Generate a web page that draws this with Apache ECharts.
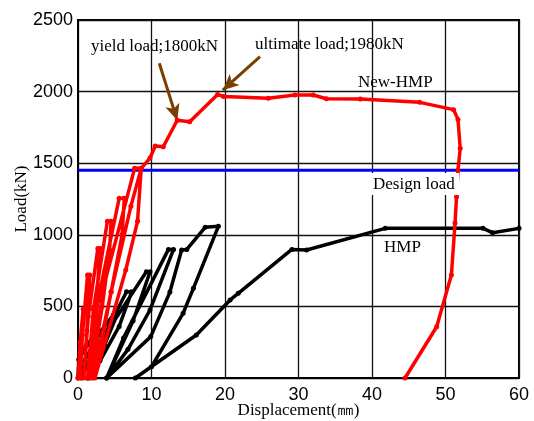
<!DOCTYPE html>
<html>
<head>
<meta charset="utf-8">
<script src="https://cdn.jsdelivr.net/npm/echarts@6/dist/echarts.min.js"></script>
<style>
  html, body { margin: 0; padding: 0; background: #fff; }
  #chart { width: 534px; height: 421px; }
</style>
</head>
<body>
<div id="chart"></div>
<script>
// Load–displacement curves: [displacement (mm), load (kN)]
const newHmpCurve = [
  [0, 0], [0.3, 250], [0.7, 480], [0.5, 220], [0.3, 0],
  [0.6, 300], [1.3, 720], [1.6, 720], [1.2, 330], [0.8, 0],
  [1.4, 430], [2.7, 905], [3.0, 905], [2.5, 520], [1.3, 0],
  [2.1, 480], [4.0, 1094], [4.5, 1094], [4.3, 894], [3.3, 500], [1.7, 0],
  [2.7, 540], [5.6, 1255], [6.3, 1255], [6.0, 1000], [4.5, 600], [2.0, 0],
  [3.4, 620], [7.7, 1464], [8.6, 1464], [8.1, 1094], [6.5, 754], [2.3, 0],
  [4.5, 600], [7.2, 1200], [8.6, 1464], [9.8, 1536], [10.5, 1620], [11.6, 1615],
  [13.5, 1800], [15.2, 1790], [19.0, 1980], [19.8, 1965], [25.9, 1953],
  [29.5, 1976], [32.0, 1976], [33.8, 1950], [38.4, 1948], [46.5, 1925],
  [51.1, 1874], [51.7, 1806], [52.0, 1604], [51.7, 1452], [51.5, 1266],
  [51.3, 1082], [50.8, 719], [48.8, 358], [44.5, 0]
];

const hmpCurve = [
  [0, 0], [0.1, 130], [1.2, 230], [2.3, 300], [2.8, 300], [1.8, 150], [0.5, 0],
  [0.9, 120], [3.0, 320], [4.8, 440], [5.3, 440], [3.6, 230], [1.3, 0],
  [3.2, 260], [6.6, 602], [7.3, 602], [5.6, 360], [3.0, 120], [1.4, 0],
  [4.3, 350], [9.3, 742], [9.8, 742], [7.5, 400], [3.9, 0],
  [6.2, 280], [12.3, 898], [13.0, 898], [9.8, 475], [6.8, 200], [3.9, 0],
  [9.9, 289], [12.5, 600], [14.1, 894], [14.8, 898], [17.3, 1052], [19.1, 1059],
  [15.7, 626], [14.3, 452], [10.0, 79], [7.8, 0],
  [16.1, 300], [20.7, 545], [21.8, 591], [29.1, 898], [31.1, 894],
  [41.8, 1045], [55.1, 1045], [56.4, 1015], [60, 1045]
];

const designLoad = 1450;

// Annotation arrows: [tail, head] in data coordinates
const yieldArrow = [[11.06, 2198], [13.5, 1800]];
const ultimateArrow = [[24.76, 2244], [19.7, 2010]];

const xTicks = [0, 10, 20, 30, 40, 50, 60];
const yTicks = [0, 500, 1000, 1500, 2000, 2500];

const serif = '"Liberation Serif", "Times New Roman", serif';
const sans = '"Liberation Sans", Arial, sans-serif';
const brown = '#7a3f00';

const chart = echarts.init(document.getElementById('chart'), null, { renderer: 'canvas' });

function arrowLine(pts) {
  return [{ coord: pts[0], symbol: 'none' }, { coord: pts[1], symbol: 'arrow' }];
}

chart.setOption({
  animation: false,
  backgroundColor: '#fff',
  grid: {
    left: 78, right: 15, top: 20, bottom: 43,
    containLabel: false, outerBoundsMode: 'none',
    show: true, borderColor: '#000', borderWidth: 2, backgroundColor: 'transparent'
  },
  xAxis: {
    type: 'value', min: xTicks[0], max: xTicks[xTicks.length - 1], interval: 10,
    name: 'Displacement(㎜)', nameLocation: 'middle', nameGap: 24, nameMoveOverlap: false,
    nameTextStyle: { fontFamily: serif, fontSize: 17, color: '#000' },
    axisLine: { lineStyle: { color: '#000', width: 2 } },
    axisTick: { show: false },
    axisLabel: { fontFamily: sans, fontSize: 18, color: '#000', margin: 8,
      formatter: v => String(v) },
    splitLine: { show: true, lineStyle: { color: '#111', width: 1.3 } }
  },
  yAxis: {
    type: 'value', min: yTicks[0], max: yTicks[yTicks.length - 1], interval: 500,
    name: 'Load(kN)', nameLocation: 'middle', nameGap: 48, nameMoveOverlap: false,
    nameTextStyle: { fontFamily: serif, fontSize: 17, color: '#000' },
    axisLine: { lineStyle: { color: '#000', width: 2 } },
    axisTick: { show: false },
    axisLabel: { fontFamily: sans, fontSize: 18, color: '#000', margin: 5,
      formatter: v => String(v) },
    splitLine: { show: true, lineStyle: { color: '#111', width: 1.3 } }
  },
  series: [
    {
      name: 'Design load', type: 'line', silent: true,
      data: [[0, designLoad], [60, designLoad]],
      showSymbol: false,
      lineStyle: { color: '#0000ff', width: 3 }, z: 3
    },
    {
      name: 'HMP', type: 'line', data: hmpCurve,
      symbol: 'circle', symbolSize: 5, showSymbol: true,
      itemStyle: { color: '#000' },
      lineStyle: { color: '#000', width: 3.5 }, z: 4
    },
    {
      name: 'New-HMP', type: 'line', data: newHmpCurve,
      symbol: 'circle', symbolSize: 5, showSymbol: true,
      itemStyle: { color: '#ff0000' },
      lineStyle: { color: '#ff0000', width: 3.5 }, z: 5,
      markLine: {
        silent: true, symbolSize: [11, 16],
        lineStyle: { color: brown, width: 3, type: 'solid' },
        itemStyle: { color: brown },
        label: { show: false },
        data: [arrowLine(yieldArrow), arrowLine(ultimateArrow)]
      }
    }
  ],
  graphic: [
    { type: 'text', z: 100, left: 91, top: 38,
      style: { text: 'yield load;1800kN', font: '17px ' + serif, fill: '#000' } },
    { type: 'text', z: 100, left: 255, top: 36,
      style: { text: 'ultimate load;1980kN', font: '17px ' + serif, fill: '#000' } },
    { type: 'text', z: 100, left: 358, top: 74,
      style: { text: 'New-HMP', font: '17px ' + serif, fill: '#000' } },
    { type: 'rect', z: 99, shape: { x: 371, y: 173, width: 88, height: 22 },
      style: { fill: '#fff' } },
    { type: 'text', z: 100, left: 373, top: 176,
      style: { text: 'Design load', font: '17px ' + serif, fill: '#000' } },
    { type: 'text', z: 100, left: 384, top: 239,
      style: { text: 'HMP', font: '17px ' + serif, fill: '#000' } }
  ]
});
</script>
</body>
</html>
